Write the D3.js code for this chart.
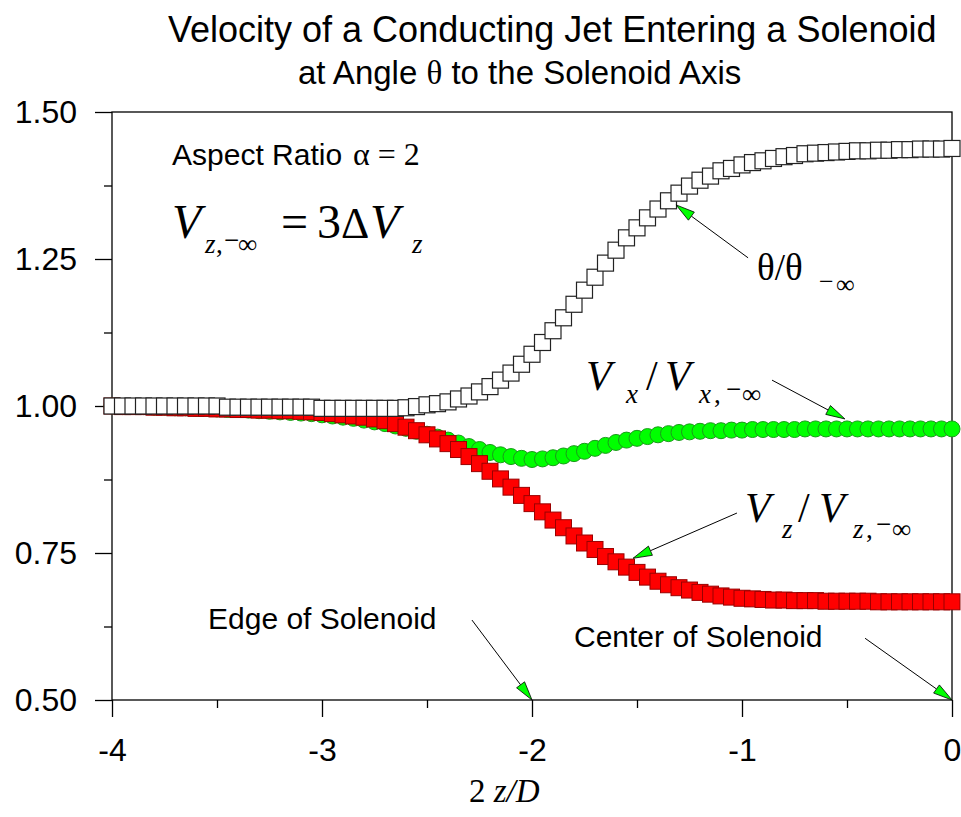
<!DOCTYPE html>
<html>
<head>
<meta charset="utf-8">
<script src="https://cdn.jsdelivr.net/npm/d3@7"></script>
<style>
  html, body { margin: 0; padding: 0; background: #fff; }
  svg { display: block; }
</style>
</head>
<body>
<svg id="chart" width="961" height="817"></svg>
<script>
// sample positions 2z/D
var zPos = [
  -4.00, -3.95, -3.90, -3.85, -3.80, -3.75, -3.70, -3.65, -3.60, -3.55,
  -3.50, -3.45, -3.40, -3.35, -3.30, -3.25, -3.20, -3.15, -3.10, -3.05,
  -3.00, -2.95, -2.90, -2.85, -2.80, -2.75, -2.70, -2.65, -2.60, -2.55,
  -2.50, -2.45, -2.40, -2.35, -2.30, -2.25, -2.20, -2.15, -2.10, -2.05,
  -2.00, -1.95, -1.90, -1.85, -1.80, -1.75, -1.70, -1.65, -1.60, -1.55,
  -1.50, -1.45, -1.40, -1.35, -1.30, -1.25, -1.20, -1.15, -1.10, -1.05,
  -1.00, -0.95, -0.90, -0.85, -0.80, -0.75, -0.70, -0.65, -0.60, -0.55,
  -0.50, -0.45, -0.40, -0.35, -0.30, -0.25, -0.20, -0.15, -0.10, -0.05,
  0.00
];

// theta / theta_-inf (white squares)
var thetaRatio = [
  1.000, 1.000, 1.000, 1.000, 1.000, 1.000, 1.000, 1.000, 1.000, 1.000,
  1.000, 0.998, 0.998, 0.998, 0.998, 0.998, 0.998, 0.998, 0.998, 0.998,
  0.996, 0.996, 0.996, 0.996, 0.996, 0.996, 0.996, 0.996, 0.997, 0.999,
  1.002, 1.004, 1.007, 1.012, 1.017, 1.024, 1.033, 1.044, 1.056, 1.071,
  1.088, 1.108, 1.128, 1.150, 1.173, 1.197, 1.219, 1.243, 1.265, 1.286,
  1.303, 1.320, 1.335, 1.349, 1.362, 1.374, 1.384, 1.391, 1.400, 1.404,
  1.410, 1.414, 1.417, 1.421, 1.424, 1.426, 1.429, 1.430, 1.431, 1.432,
  1.433, 1.434, 1.434, 1.435, 1.435, 1.436, 1.436, 1.437, 1.437, 1.437,
  1.438
];

// Vz / Vz,-inf (red squares)
var vzRatio = [
  1.000, 0.999, 0.999, 0.999, 0.998, 0.998, 0.997, 0.997, 0.996, 0.996,
  0.995, 0.995, 0.994, 0.994, 0.993, 0.993, 0.992, 0.992, 0.991, 0.990,
  0.989, 0.987, 0.985, 0.983, 0.981, 0.978, 0.975, 0.970, 0.964, 0.958,
  0.951, 0.944, 0.936, 0.926, 0.914, 0.902, 0.889, 0.876, 0.862, 0.848,
  0.834, 0.820, 0.806, 0.793, 0.779, 0.767, 0.756, 0.744, 0.735, 0.726,
  0.717, 0.709, 0.702, 0.696, 0.691, 0.687, 0.683, 0.680, 0.677, 0.675,
  0.673, 0.672, 0.671, 0.670, 0.670, 0.669, 0.669, 0.669, 0.668, 0.668,
  0.668, 0.668, 0.668, 0.667, 0.667, 0.667, 0.667, 0.667, 0.667, 0.667,
  0.667
];

// Vx / Vx,-inf (green circles)
var vxRatio = [
  1.000, 0.999, 0.999, 0.999, 0.998, 0.998, 0.997, 0.997, 0.996, 0.996,
  0.995, 0.994, 0.994, 0.993, 0.992, 0.991, 0.990, 0.989, 0.988, 0.987,
  0.985, 0.983, 0.981, 0.979, 0.976, 0.973, 0.970, 0.966, 0.962, 0.957,
  0.952, 0.947, 0.942, 0.937, 0.931, 0.926, 0.921, 0.917, 0.914, 0.911,
  0.909, 0.910, 0.912, 0.915, 0.919, 0.923, 0.928, 0.933, 0.938, 0.942,
  0.945, 0.948, 0.951, 0.953, 0.955, 0.956, 0.957, 0.958, 0.958, 0.959,
  0.959, 0.960, 0.960, 0.960, 0.960, 0.960, 0.961, 0.961, 0.961, 0.961,
  0.961, 0.961, 0.961, 0.961, 0.961, 0.961, 0.961, 0.961, 0.961, 0.961,
  0.961
];

var yMajorTicks = [0.50, 0.75, 1.00, 1.25, 1.50];
var yMinorTicks = [0.625, 0.875, 1.125, 1.375];
var xMajorTicks = [-4, -3, -2, -1, 0];
var xMinorTicks = [-3.5, -2.5, -1.5, -0.5];

var svg = d3.select("#chart"),
  margin = { top: 112, right: 9, bottom: 117, left: 112 },
  width = +svg.attr("width") - margin.left - margin.right,
  height = +svg.attr("height") - margin.top - margin.bottom;

var sans = "'Liberation Sans', Arial, sans-serif";
var serif = "'Liberation Serif', 'Times New Roman', serif";

var xScale = d3.scaleLinear().domain([-4, 0]).range([margin.left, margin.left + width]);
var yScale = d3.scaleLinear().domain([0.5, 1.5]).range([margin.top + height, margin.top]);

var points = zPos.map(function (z, i) {
  return { z: z, theta: thetaRatio[i], vz: vzRatio[i], vx: vxRatio[i] };
});

// title
svg.append("text")
  .attr("x", 168).attr("y", 42)
  .style("font-family", sans).style("font-size", "36px")
  .text("Velocity of a Conducting Jet Entering a Solenoid");

var t2 = svg.append("text")
  .attr("x", 298).attr("y", 84)
  .style("font-family", sans).style("font-size", "33px");
t2.append("tspan").text("at Angle ");
t2.append("tspan").style("font-family", serif).text("θ");
t2.append("tspan").text(" to the Solenoid Axis");

// axes
var yAxis = d3.axisLeft(yScale).tickValues(yMajorTicks).tickSize(17).tickPadding(18)
  .tickFormat(d3.format(".2f"));
var yAxisMinor = d3.axisLeft(yScale).tickValues(yMinorTicks).tickSize(8).tickFormat("");
var xAxis = d3.axisBottom(xScale).tickValues(xMajorTicks).tickSize(17).tickPadding(21)
  .tickFormat(function (d) { return String(d); });
var xAxisMinor = d3.axisBottom(xScale).tickValues(xMinorTicks).tickSize(8).tickFormat("");

function styleAxis(g) {
  g.select(".domain").remove();
  g.selectAll("line").attr("stroke", "#000").attr("stroke-width", 1.3);
  g.selectAll("text").attr("fill", "#000")
    .style("font-family", sans).style("font-size", "32px");
}

svg.append("g").attr("transform", "translate(" + margin.left + ",0)").call(yAxis).call(styleAxis);
svg.append("g").attr("transform", "translate(" + margin.left + ",0)").call(yAxisMinor).call(styleAxis);
svg.append("g").attr("transform", "translate(0," + (margin.top + height) + ")").call(xAxis).call(styleAxis);
svg.append("g").attr("transform", "translate(0," + (margin.top + height) + ")").call(xAxisMinor).call(styleAxis);

// frame
svg.append("rect")
  .attr("x", margin.left).attr("y", margin.top)
  .attr("width", width).attr("height", height)
  .attr("fill", "none").attr("stroke", "#000").attr("stroke-width", 1.3);

// x axis title: 2 z/D
var xt = svg.append("text")
  .attr("x", 469).attr("y", 802)
  .style("font-family", serif).style("font-size", "33px");
xt.append("tspan").text("2 ");
xt.append("tspan").style("font-style", "italic").text("z/D");

// series: green circles, red squares, white squares
var half = 8;
svg.append("g").selectAll("circle")
  .data(points).join("circle")
  .attr("cx", function (d) { return xScale(d.z); })
  .attr("cy", function (d) { return yScale(d.vx); })
  .attr("r", half)
  .attr("fill", "#00ff00")
  .attr("stroke", "#1a9a1a").attr("stroke-width", 1);

svg.append("g").selectAll("rect")
  .data(points).join("rect")
  .attr("x", function (d) { return xScale(d.z) - half; })
  .attr("y", function (d) { return yScale(d.vz) - half; })
  .attr("width", half * 2).attr("height", half * 2)
  .attr("fill", "#ff0000")
  .attr("stroke", "#9a0000").attr("stroke-width", 1);

svg.append("g").selectAll("rect")
  .data(points).join("rect")
  .attr("x", function (d) { return xScale(d.z) - half; })
  .attr("y", function (d) { return yScale(d.theta) - half; })
  .attr("width", half * 2).attr("height", half * 2)
  .attr("fill", "#fff")
  .attr("stroke", "#222").attr("stroke-width", 1.2);

// annotation arrows, ends in data units
var arrows = [
  { from: [-0.971, 1.252], to: [-1.314, 1.342] },
  { from: [-0.857, 1.044], to: [-0.510, 0.978] },
  { from: [-1.024, 0.818], to: [-1.519, 0.741] },
  { from: [-2.286, 0.636], to: [-2.0, 0.5] },
  { from: [-0.414, 0.605], to: [0, 0.5] }
];

arrows.forEach(function (a) {
  var x1 = xScale(a.from[0]), y1 = yScale(a.from[1]);
  var x2 = xScale(a.to[0]), y2 = yScale(a.to[1]);
  var len = Math.hypot(x2 - x1, y2 - y1);
  var ux = (x2 - x1) / len, uy = (y2 - y1) / len;
  var bx = x2 - ux * 19, by = y2 - uy * 19;
  svg.append("line")
    .attr("x1", x1).attr("y1", y1).attr("x2", bx).attr("y2", by)
    .attr("stroke", "#000").attr("stroke-width", 1);
  svg.append("polygon")
    .attr("points", [
      [x2, y2],
      [bx - uy * 5, by + ux * 5],
      [bx + uy * 5, by - ux * 5]
    ].map(function (p) { return p.join(","); }).join(" "))
    .attr("fill", "#00ff00").attr("stroke", "#000").attr("stroke-width", 0.8);
});

// text annotations
svg.append("text").attr("x", 172).attr("y", 165)
  .style("font-family", sans).style("font-size", "30px").text("Aspect Ratio");
svg.append("text").attr("x", 353).attr("y", 165)
  .style("font-family", serif).style("font-size", "32px").text("α = 2");

function mathText(x, y, size, str, italic) {
  return svg.append("text").attr("x", x).attr("y", y)
    .style("font-family", serif).style("font-size", size + "px")
    .style("font-style", italic ? "italic" : "normal").text(str);
}

// V_{z,-inf} = 3 Delta V_z
mathText(172, 238, 48, "V", true);
mathText(205, 253, 27, "z", true);
mathText(216, 253, 27, ",", false);
mathText(224, 249, 27, "−", false);
mathText(238, 253, 27, "∞", false);
mathText(281, 238, 48, "=", false);
mathText(317, 238, 48, "3", false);
mathText(341, 238, 44, "Δ", false);
mathText(370, 238, 48, "V", true);
mathText(412, 253, 27, "z", true);

// theta / theta_-inf
mathText(757, 280, 37, "θ/θ", false);
mathText(819, 290, 26, "−", false);
mathText(836, 293, 26, "∞", false);

// Vx / Vx,-inf
mathText(586, 390, 42, "V", true);
mathText(626, 403, 27, "x", true);
mathText(646, 390, 42, "/", false);
mathText(665, 390, 42, "V", true);
mathText(699, 403, 27, "x", true);
mathText(714, 403, 27, ",", false);
mathText(726, 398, 27, "−", false);
mathText(742, 403, 27, "∞", false);

// Vz / Vz,-inf
mathText(745, 522, 42, "V", true);
mathText(782, 538, 27, "z", true);
mathText(798, 522, 42, "/", false);
mathText(819, 522, 42, "V", true);
mathText(853, 538, 27, "z", true);
mathText(866, 538, 27, ",", false);
mathText(876, 533, 27, "−", false);
mathText(892, 538, 27, "∞", false);

svg.append("text").attr("x", 208).attr("y", 629)
  .style("font-family", sans).style("font-size", "30px").text("Edge of Solenoid");
svg.append("text").attr("x", 574).attr("y", 647)
  .style("font-family", sans).style("font-size", "30px").text("Center of Solenoid");
</script>
</body>
</html>
